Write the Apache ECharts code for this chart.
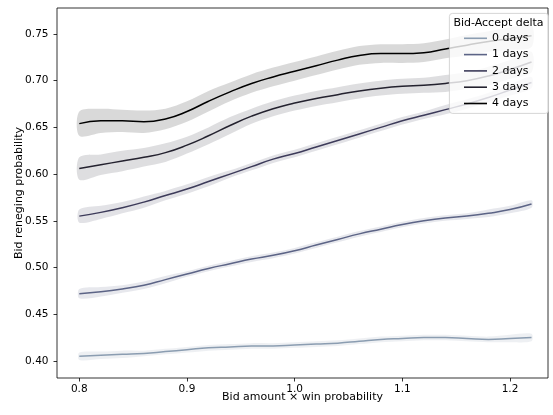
<!DOCTYPE html>
<html>
<head>
<meta charset="utf-8">
<script src="https://cdn.jsdelivr.net/npm/echarts@6/dist/echarts.min.js"></script>
<style>
html,body{margin:0;padding:0;background:#fff;}
#chart{width:553px;height:415px;}
</style>
</head>
<body>
<div id="chart"></div>
<script>
const xValues = [0.80,0.82,0.84,0.86,0.88,0.90,0.92,0.94,0.96,0.98,1.00,1.02,1.04,1.06,1.08,1.10,1.12,1.14,1.16,1.18,1.20,1.22];

const seriesNames = ['0 days','1 days','2 days','3 days','4 days'];

const days0 = [0.405,0.406,0.407,0.408,0.410,0.412,0.414,0.415,0.416,0.416,0.417,0.418,0.419,0.421,0.423,0.424,0.425,0.425,0.424,0.423,0.424,0.425];
const days1 = [0.472,0.474,0.477,0.481,0.487,0.493,0.499,0.504,0.509,0.513,0.518,0.524,0.530,0.536,0.541,0.546,0.550,0.553,0.555,0.558,0.562,0.568];
const days2 = [0.555,0.559,0.564,0.570,0.577,0.584,0.592,0.600,0.608,0.616,0.622,0.629,0.636,0.643,0.650,0.657,0.663,0.669,0.675,0.682,0.690,0.698];
const days3 = [0.606,0.610,0.614,0.618,0.623,0.631,0.641,0.652,0.662,0.670,0.676,0.681,0.685,0.689,0.692,0.694,0.695,0.697,0.700,0.705,0.712,0.720];
const days4 = [0.654,0.657,0.657,0.656,0.659,0.667,0.678,0.688,0.697,0.704,0.710,0.716,0.722,0.727,0.729,0.729,0.730,0.734,0.738,0.742,0.745,0.748];

// half-widths of the confidence bands
const band0 = [0.004,0.004,0.004,0.003,0.003,0.003,0.003,0.003,0.003,0.003,0.003,0.003,0.003,0.003,0.003,0.003,0.003,0.003,0.003,0.003,0.004,0.004];
const band1 = [0.005,0.005,0.004,0.004,0.004,0.003,0.003,0.003,0.003,0.003,0.003,0.003,0.003,0.003,0.003,0.003,0.003,0.003,0.003,0.004,0.004,0.004];
const band2 = [0.007,0.007,0.006,0.006,0.005,0.005,0.005,0.004,0.004,0.004,0.004,0.004,0.004,0.004,0.004,0.004,0.004,0.005,0.005,0.005,0.006,0.006];
const band3 = [0.012,0.011,0.011,0.010,0.010,0.009,0.009,0.009,0.008,0.008,0.008,0.008,0.008,0.008,0.008,0.008,0.008,0.009,0.009,0.010,0.010,0.011];
const band4 = [0.013,0.013,0.012,0.012,0.011,0.011,0.011,0.010,0.010,0.010,0.010,0.010,0.010,0.010,0.010,0.010,0.010,0.010,0.011,0.011,0.012,0.012];

const xTicks = [0.8,0.9,1.0,1.1,1.2];
const yTicks = [0.40,0.45,0.50,0.55,0.60,0.65,0.70,0.75];

const lineColors = ['#8b9db1','#5c6486','#3d3b5a','#24222f','#000000'];
const allValues = [days0,days1,days2,days3,days4];
const allBands = [band0,band1,band2,band3,band4];

const FONT = 'DejaVu Sans';
const chart = echarts.init(document.getElementById('chart'), null, {renderer:'canvas'});

const series = [];
allValues.forEach((vals, k) => {
  const bw = allBands[k];
  series.push({
    name: seriesNames[k] + ' band',
    type: 'custom',
    clip: true,
    z: 1,
    silent: true,
    data: xValues.map((x,i)=>[x, vals[i]]),
    encode: {x:0, y:1},
    renderItem: function(params, api){
      if (params.dataIndex !== 0) return null;
      const upper = xValues.map((x,i)=>api.coord([x, vals[i]+bw[i]]));
      const lower = xValues.map((x,i)=>api.coord([x, vals[i]-bw[i]])).reverse();
      return {
        type:'polygon',
        shape:{points: upper.concat(lower), smooth: 0.3},
        style:{fill: lineColors[k], opacity: 0.15},
        silent: true
      };
    }
  });
});
allValues.forEach((vals, k) => {
  series.push({
    name: seriesNames[k],
    type: 'line',
    z: 3,
    smooth: 0.5,
    showSymbol: false,
    symbol: 'none',
    color: lineColors[k],
    lineStyle: {width: 1.5, color: lineColors[k]},
    data: xValues.map((x,i)=>[x, vals[i]])
  });
});

const option = {
  animation: false,
  backgroundColor: '#fff',
  textStyle: {fontFamily: FONT},
  grid: {left:57, right:5, top:8, bottom:37, outerBoundsMode:'none', containLabel:false, show:true, borderColor:'#000', borderWidth:0.8, backgroundColor:'transparent'},
  xAxis: {
    type:'value', min:0.7793, max:1.2353,
    name:'Bid amount × win probability', nameLocation:'middle', nameGap:14, nameMoveOverlap:false,
    nameTextStyle:{fontFamily:FONT, fontSize:11, color:'#000'},
    axisLine:{show:false},
    splitLine:{show:false},
    axisTick:{show:true, inside:false, length:3.5, lineStyle:{color:'#000', width:0.8}, customValues:xTicks},
    axisLabel:{customValues:xTicks, margin:6, fontFamily:FONT, fontSize:10.5, color:'#000', formatter:(v)=>v.toFixed(1)}
  },
  yAxis: {
    type:'value', min:0.3817, max:0.7778,
    name:'Bid reneging probability', nameLocation:'middle', nameGap:32, nameRotate:90, nameMoveOverlap:false,
    nameTextStyle:{fontFamily:FONT, fontSize:11, color:'#000'},
    axisLine:{show:false},
    splitLine:{show:false},
    axisTick:{show:true, inside:false, length:3.5, lineStyle:{color:'#000', width:0.8}, customValues:yTicks},
    axisLabel:{customValues:yTicks, margin:8.5, fontFamily:FONT, fontSize:10.5, color:'#000', formatter:(v)=>v.toFixed(2)}
  },
  legend: {
    data: seriesNames,
    orient:'vertical',
    left: 464, top: 32.3,
    padding: 0,
    icon: 'rect',
    itemWidth: 23, itemHeight: 1.6,
    itemGap: 4.3,
    z: 10,
    textStyle:{fontFamily:FONT, fontSize:11, color:'#000', lineHeight:12, padding:[0,0,0,0]},
    itemStyle:{borderWidth:0}
  },
  graphic: [
    {type:'rect', left:449, top:13, z:8, shape:{width:99, height:100, r:3},
     style:{fill:'rgba(255,255,255,0.8)', stroke:'#cccccc', lineWidth:0.8}},
    {type:'text', z:9, x:498.5, y:23, style:{text:'Bid-Accept delta', fontFamily:FONT, fontSize:11, fill:'#000', align:'center', verticalAlign:'middle'}}
  ],
  series: series
};
chart.setOption(option);
</script>
</body>
</html>
